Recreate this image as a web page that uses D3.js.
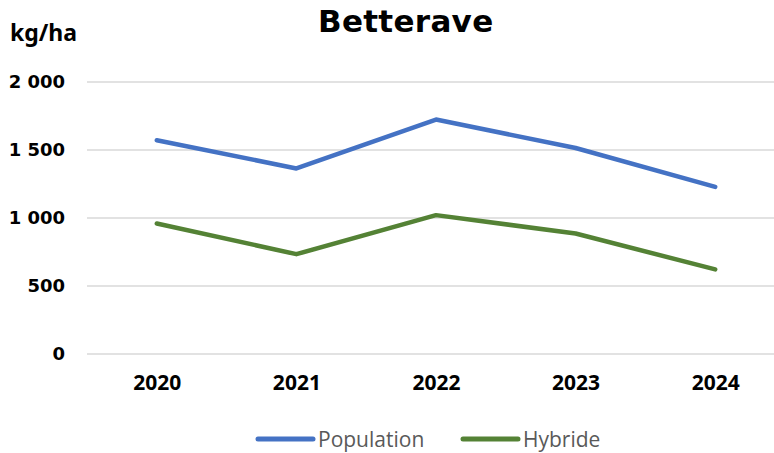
<!DOCTYPE html>
<html>
<head>
<meta charset="utf-8">
<script src="https://cdn.jsdelivr.net/npm/d3@7"></script>
<style>
  html, body { margin: 0; padding: 0; background: #fff; }
  svg { display: block; }
</style>
</head>
<body>
<svg id="chart" width="774" height="453"></svg>
<script>
const years = ["2020", "2021", "2022", "2023", "2024"];
const population = [1572, 1364, 1724, 1515, 1229];
const hybride = [960, 734, 1021, 886, 622];
const seriesNames = ["Population", "Hybride"];
const seriesColors = ["#4472C4", "#548235"];
const yTicks = [0, 500, 1000, 1500, 2000];
const title = "Betterave";
const unitLabel = "kg/ha";

const svg = d3.select("#chart");
const W = 774, H = 453;
const margin = { left: 87, right: -11, top: 82, bottom: 99 };

const x = d3.scalePoint().domain(years)
  .range([margin.left, W - margin.right]).padding(0.5);
const y = d3.scaleLinear().domain([0, 2000]).range([H - margin.bottom, margin.top]);

const fmt = v => d3.format(",")(v).replace(/,/g, " ");

// gridlines
svg.append("g").selectAll("line").data(yTicks).join("line")
  .attr("x1", margin.left).attr("x2", W)
  .attr("y1", d => y(d)).attr("y2", d => y(d))
  .attr("stroke", "#d9d9d9").attr("stroke-width", 1.5);

// y axis labels
const yAxis = d3.axisLeft(y).tickValues(yTicks).tickFormat(fmt).tickSize(0).tickPadding(0);
const gy = svg.append("g").attr("transform", "translate(65,0)").call(yAxis);
gy.select(".domain").remove();
gy.selectAll("text")
  .attr("font-family", "'DejaVu Sans', sans-serif")
  .attr("font-weight", "bold").attr("font-size", 18).attr("fill", "#000");

// x axis labels
const xAxis = d3.axisBottom(x).tickSize(0).tickPadding(0);
const gx = svg.append("g").attr("transform", `translate(0,${y(0)})`).call(xAxis);
gx.select(".domain").remove();
gx.selectAll("text")
  .attr("dy", null).attr("y", 36)
  .attr("font-family", "'Noto Sans', 'DejaVu Sans', sans-serif")
  .attr("font-weight", "bold").attr("font-size", 21).attr("fill", "#000");

// lines
const seriesData = [population, hybride];
const line = d3.line().x((d, i) => x(years[i])).y(d => y(d));
svg.append("g").selectAll("path").data(seriesData).join("path")
  .attr("d", d => line(d))
  .attr("fill", "none")
  .attr("stroke", (d, i) => seriesColors[i])
  .attr("stroke-width", 4.5)
  .attr("stroke-linejoin", "round")
  .attr("stroke-linecap", "round");

// title
svg.append("text").attr("x", 318).attr("y", 32)
  .attr("font-family", "'DejaVu Sans', sans-serif")
  .attr("font-weight", "bold").attr("font-size", 31)
  .attr("letter-spacing", 0.3).attr("fill", "#000")
  .text(title);

// unit label
svg.append("text").attr("x", 10).attr("y", 41)
  .attr("font-family", "'Noto Sans', 'DejaVu Sans', sans-serif")
  .attr("font-weight", "bold").attr("font-size", 23).attr("fill", "#000")
  .text(unitLabel);

// legend
const legendItems = [
  { name: seriesNames[0], color: seriesColors[0], x: 258 },
  { name: seriesNames[1], color: seriesColors[1], x: 463 }
];
const lg = svg.append("g").selectAll("g").data(legendItems).join("g")
  .attr("transform", d => `translate(${d.x},439)`);
lg.append("line").attr("x1", 0).attr("x2", 55).attr("y1", 0).attr("y2", 0)
  .attr("stroke", d => d.color).attr("stroke-width", 5).attr("stroke-linecap", "round");
lg.append("text").attr("x", 60).attr("y", 7.5)
  .attr("font-family", "'Open Sans', 'Noto Sans', sans-serif")
  .attr("font-size", 21).attr("fill", "#595959")
  .text(d => d.name);
</script>
</body>
</html>
